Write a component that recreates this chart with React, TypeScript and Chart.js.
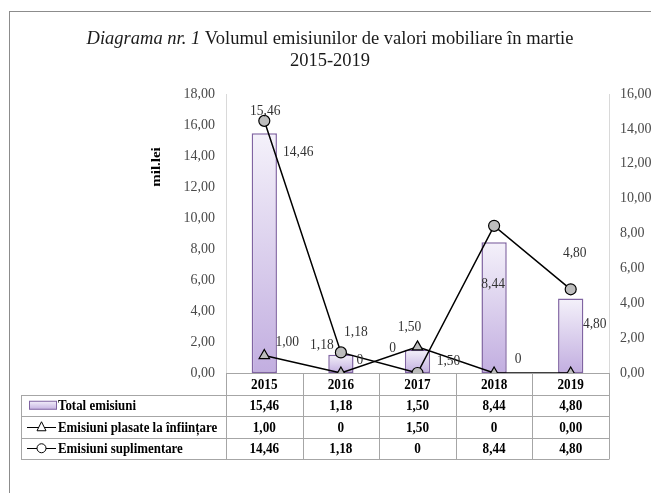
import React, { useEffect, useRef } from 'react';
import { Chart, registerables } from 'chart.js';

Chart.register(...registerables);

// ---------- data ----------
const categories = ['2015', '2016', '2017', '2018', '2019'];
const seriesNames = ['Total emisiuni', 'Emisiuni plasate la înființare', 'Emisiuni suplimentare'];
const totalEmisiuni = [15.46, 1.18, 1.5, 8.44, 4.8];
const emisiuniPlasate = [1.0, 0, 1.5, 0, 0.0];
const emisiuniSuplimentare = [14.46, 1.18, 0, 8.44, 4.8];
const totalText = ['15,46', '1,18', '1,50', '8,44', '4,80'];
const plasateText = ['1,00', '0', '1,50', '0', '0,00'];
const suplimentareText = ['14,46', '1,18', '0', '8,44', '4,80'];
const leftAxisMax = 18;
const rightAxisMax = 16;
const axisStep = 2;
const titleItalic = 'Diagrama nr. 1';
const titleRest = ' Volumul emisiunilor de valori mobiliare în martie';
const titleLine2 = '2015-2019';
const unitLabel = 'mil.lei';

// ---------- label placement (offsets from each mark, px) ----------
const totalLabelOffsets: ([number, number] | null)[] = [[1, -22], [-19, -10], [-8, -23], [-1, 42], [24, 25]];
const plasateLabelOffsets: ([number, number] | null)[] = [[23, -14], [19, -13], [31, 14], [24, -14], null];
const suplLabelOffsets: ([number, number] | null)[] = [[34, 31], [15, -20], [-25, -25], null, [4, -36]];

const SERIF = "'Liberation Serif', 'Times New Roman', serif";
const fmt = (v: number) => v.toFixed(2).replace('.', ',');

// draw horizontally condensed text
function condText(ctx: any, t: string, x: number, y: number, align: string, k = 0.88) {
  ctx.save();
  ctx.translate(x, y);
  ctx.scale(k, 1);
  ctx.textAlign = align;
  ctx.fillText(t, 0, 0);
  ctx.restore();
}

const overlayPlugin = {
  id: 'overlay',
  beforeDraw(chart: any) {
    const ctx = chart.ctx;
    ctx.save();
    // outer chart border
    ctx.strokeStyle = '#8c8c8c';
    ctx.lineWidth = 1;
    ctx.strokeRect(9.5, 11.5, 720, 620);
    // title
    ctx.fillStyle = '#1a1a1a';
    ctx.textBaseline = 'middle';
    ctx.font = `italic 18.5px ${SERIF}`;
    const w1 = ctx.measureText(titleItalic).width;
    ctx.font = `18.5px ${SERIF}`;
    const w2 = ctx.measureText(titleRest).width;
    const cx = 330;
    const start = cx - (w1 + w2) / 2;
    ctx.textAlign = 'left';
    ctx.font = `italic 18.5px ${SERIF}`;
    ctx.fillText(titleItalic, start, 39);
    ctx.font = `18.5px ${SERIF}`;
    ctx.fillText(titleRest, start + w1, 39);
    ctx.textAlign = 'center';
    ctx.fillText(titleLine2, cx, 61);
    // unit label
    ctx.save();
    ctx.translate(157, 167);
    ctx.rotate(-Math.PI / 2);
    ctx.scale(1, 0.85);
    ctx.font = `bold 15px ${SERIF}`;
    ctx.fillStyle = '#000';
    ctx.textAlign = 'center';
    ctx.fillText(unitLabel, 0, 0);
    ctx.restore();
    ctx.restore();
  },
  afterDatasetsDraw(chart: any) {
    const ctx = chart.ctx;
    const sets = [
      { idx: 0, text: totalText, off: totalLabelOffsets },
      { idx: 1, text: plasateText, off: plasateLabelOffsets },
      { idx: 2, text: suplimentareText, off: suplLabelOffsets },
    ];
    ctx.save();
    ctx.font = `15px ${SERIF}`;
    ctx.fillStyle = '#333';
    ctx.textBaseline = 'middle';
    sets.forEach((s) => {
      const meta = chart.getDatasetMeta(s.idx);
      meta.data.forEach((el: any, i: number) => {
        const o = s.off[i];
        if (!o) return;
        condText(ctx, s.text[i], el.x + o[0], el.y + o[1], 'center', 0.9);
      });
    });
    ctx.restore();
  },
  afterDraw(chart: any) {
    const ctx = chart.ctx;
    const xs = chart.scales.x;
    const area = chart.chartArea;
    const cw = xs.getPixelForTick(1) - xs.getPixelForTick(0);
    const left = 21;
    const rowH = 21.5;
    const r0 = area.bottom; // years row top
    const rows = [r0, r0 + rowH, r0 + 2 * rowH, r0 + 3 * rowH, r0 + 4 * rowH];
    ctx.save();
    ctx.strokeStyle = '#a6a6a6';
    ctx.lineWidth = 1;
    ctx.beginPath();
    for (let r = 1; r < rows.length; r++) {
      const y = Math.round(rows[r]) + 0.5;
      ctx.moveTo(left, y);
      ctx.lineTo(area.right, y);
    }
    const yEnd = Math.round(rows[4]) + 0.5;
    ctx.moveTo(left + 0.5, Math.round(rows[1]) + 0.5);
    ctx.lineTo(left + 0.5, yEnd);
    for (let i = 0; i <= categories.length; i++) {
      const x = Math.round(area.left + i * cw) + 0.5;
      ctx.moveTo(x, r0);
      ctx.lineTo(x, yEnd);
    }
    ctx.stroke();

    ctx.fillStyle = '#000';
    ctx.textBaseline = 'middle';
    ctx.font = `bold 15px ${SERIF}`;
    const texts = [totalText, plasateText, suplimentareText];
    categories.forEach((c, i) => {
      const x = xs.getPixelForTick(i);
      condText(ctx, c, x, (rows[0] + rows[1]) / 2 + 1, 'center');
      texts.forEach((t, r) => condText(ctx, t[i], x, (rows[r + 1] + rows[r + 2]) / 2 + 1, 'center'));
    });
    // legend keys + names
    seriesNames.forEach((n, r) => {
      const yc = (rows[r + 1] + rows[r + 2]) / 2;
      if (r === 0) {
        const g = ctx.createLinearGradient(0, yc - 4, 0, yc + 4);
        g.addColorStop(0, '#f1edf9');
        g.addColorStop(1, '#c6b3e2');
        ctx.fillStyle = g;
        ctx.fillRect(29.5, yc - 4, 27, 8);
        ctx.strokeStyle = '#8064a2';
        ctx.lineWidth = 1;
        ctx.strokeRect(29.5, yc - 4, 27, 8);
      } else {
        ctx.strokeStyle = '#000';
        ctx.lineWidth = 1;
        ctx.beginPath();
        ctx.moveTo(27, Math.round(yc) + 0.5);
        ctx.lineTo(56, Math.round(yc) + 0.5);
        ctx.stroke();
        ctx.fillStyle = '#fff';
        ctx.beginPath();
        if (r === 1) {
          ctx.moveTo(41.5, yc - 5);
          ctx.lineTo(46, yc + 4);
          ctx.lineTo(37, yc + 4);
          ctx.closePath();
        } else {
          ctx.arc(41.5, yc, 4.5, 0, Math.PI * 2);
        }
        ctx.fill();
        ctx.stroke();
      }
      ctx.fillStyle = '#000';
      ctx.font = `bold 15px ${SERIF}`;
      condText(ctx, n, 58, yc + 1, 'left', 0.86);
    });
    ctx.restore();
  },
};

export default function App() {
  const ref = useRef<HTMLCanvasElement>(null);
  useEffect(() => {
    if (!ref.current) return;
    const chart = new Chart(ref.current, {
      type: 'bar',
      data: {
        labels: categories,
        datasets: [
          {
            type: 'bar',
            label: seriesNames[0],
            data: totalEmisiuni,
            yAxisID: 'y',
            order: 2,
            backgroundColor: (c: any) => {
              const ch = c.chart;
              const ys = ch.scales && ch.scales.y;
              if (!ys || c.raw == null) return '#ddd3ee';
              const top = ys.getPixelForValue(c.raw);
              const base = ys.getPixelForValue(0);
              if (!isFinite(top) || !isFinite(base) || top === base) return '#ddd3ee';
              const g = ch.ctx.createLinearGradient(0, top, 0, base);
              g.addColorStop(0, '#f4f1fa');
              g.addColorStop(1, '#c2aee0');
              return g;
            },
            borderColor: '#8064a2',
            borderWidth: 1.5,
            borderSkipped: false,
            barPercentage: 0.33,
            categoryPercentage: 1,
          } as any,
          {
            type: 'line',
            label: seriesNames[1],
            data: emisiuniPlasate,
            yAxisID: 'y1',
            order: 1,
            borderColor: '#000',
            borderWidth: 1.5,
            pointStyle: 'triangle',
            pointRadius: 6,
            pointBackgroundColor: '#bdbdbd',
            pointBorderColor: '#000',
            pointBorderWidth: 1.2,
            tension: 0,
          } as any,
          {
            type: 'line',
            label: seriesNames[2],
            data: emisiuniSuplimentare,
            yAxisID: 'y1',
            order: 0,
            borderColor: '#000',
            borderWidth: 1.5,
            pointStyle: 'circle',
            pointRadius: 5.5,
            pointBackgroundColor: '#bdbdbd',
            pointBorderColor: '#000',
            pointBorderWidth: 1.2,
            tension: 0,
          } as any,
        ],
      },
      options: {
        responsive: false,
        animation: false,
        devicePixelRatio: 1,
        layout: { padding: { top: 94, left: 0, right: 0, bottom: 0 } },
        plugins: {
          legend: { display: false },
          title: { display: false },
          tooltip: { enabled: false },
        },
        scales: {
          x: {
            grid: { display: false, drawTicks: false },
            border: { display: true, color: '#a6a6a6' },
            ticks: { display: false },
            afterFit: (s: any) => { s.height = 120; },
          },
          y: {
            position: 'left',
            min: 0,
            max: leftAxisMax,
            grid: { display: false, drawTicks: false },
            border: { display: true, color: '#d9d9d9' },
            ticks: {
              stepSize: axisStep,
              padding: 11,
              color: '#4a4a4a',
              font: { family: SERIF, size: 14 },
              callback: (v: any) => fmt(Number(v)),
            },
            afterFit: (s: any) => { s.width = 226; },
          },
          y1: {
            position: 'right',
            min: 0,
            max: rightAxisMax,
            grid: { display: false, drawTicks: false },
            border: { display: true, color: '#d9d9d9' },
            ticks: {
              stepSize: axisStep,
              padding: 11,
              color: '#4a4a4a',
              font: { family: SERIF, size: 14 },
              callback: (v: any) => fmt(Number(v)),
            },
            afterFit: (s: any) => { s.width = 42; },
          },
        },
      },
      plugins: [overlayPlugin],
    } as any);
    return () => chart.destroy();
  }, []);
  return (
    <div style={{ position: 'fixed', left: 0, top: 0, width: 651, height: 493, overflow: 'hidden', background: '#fff' }}>
      <canvas ref={ref} width={651} height={493} style={{ display: 'block' }} />
    </div>
  );
}
